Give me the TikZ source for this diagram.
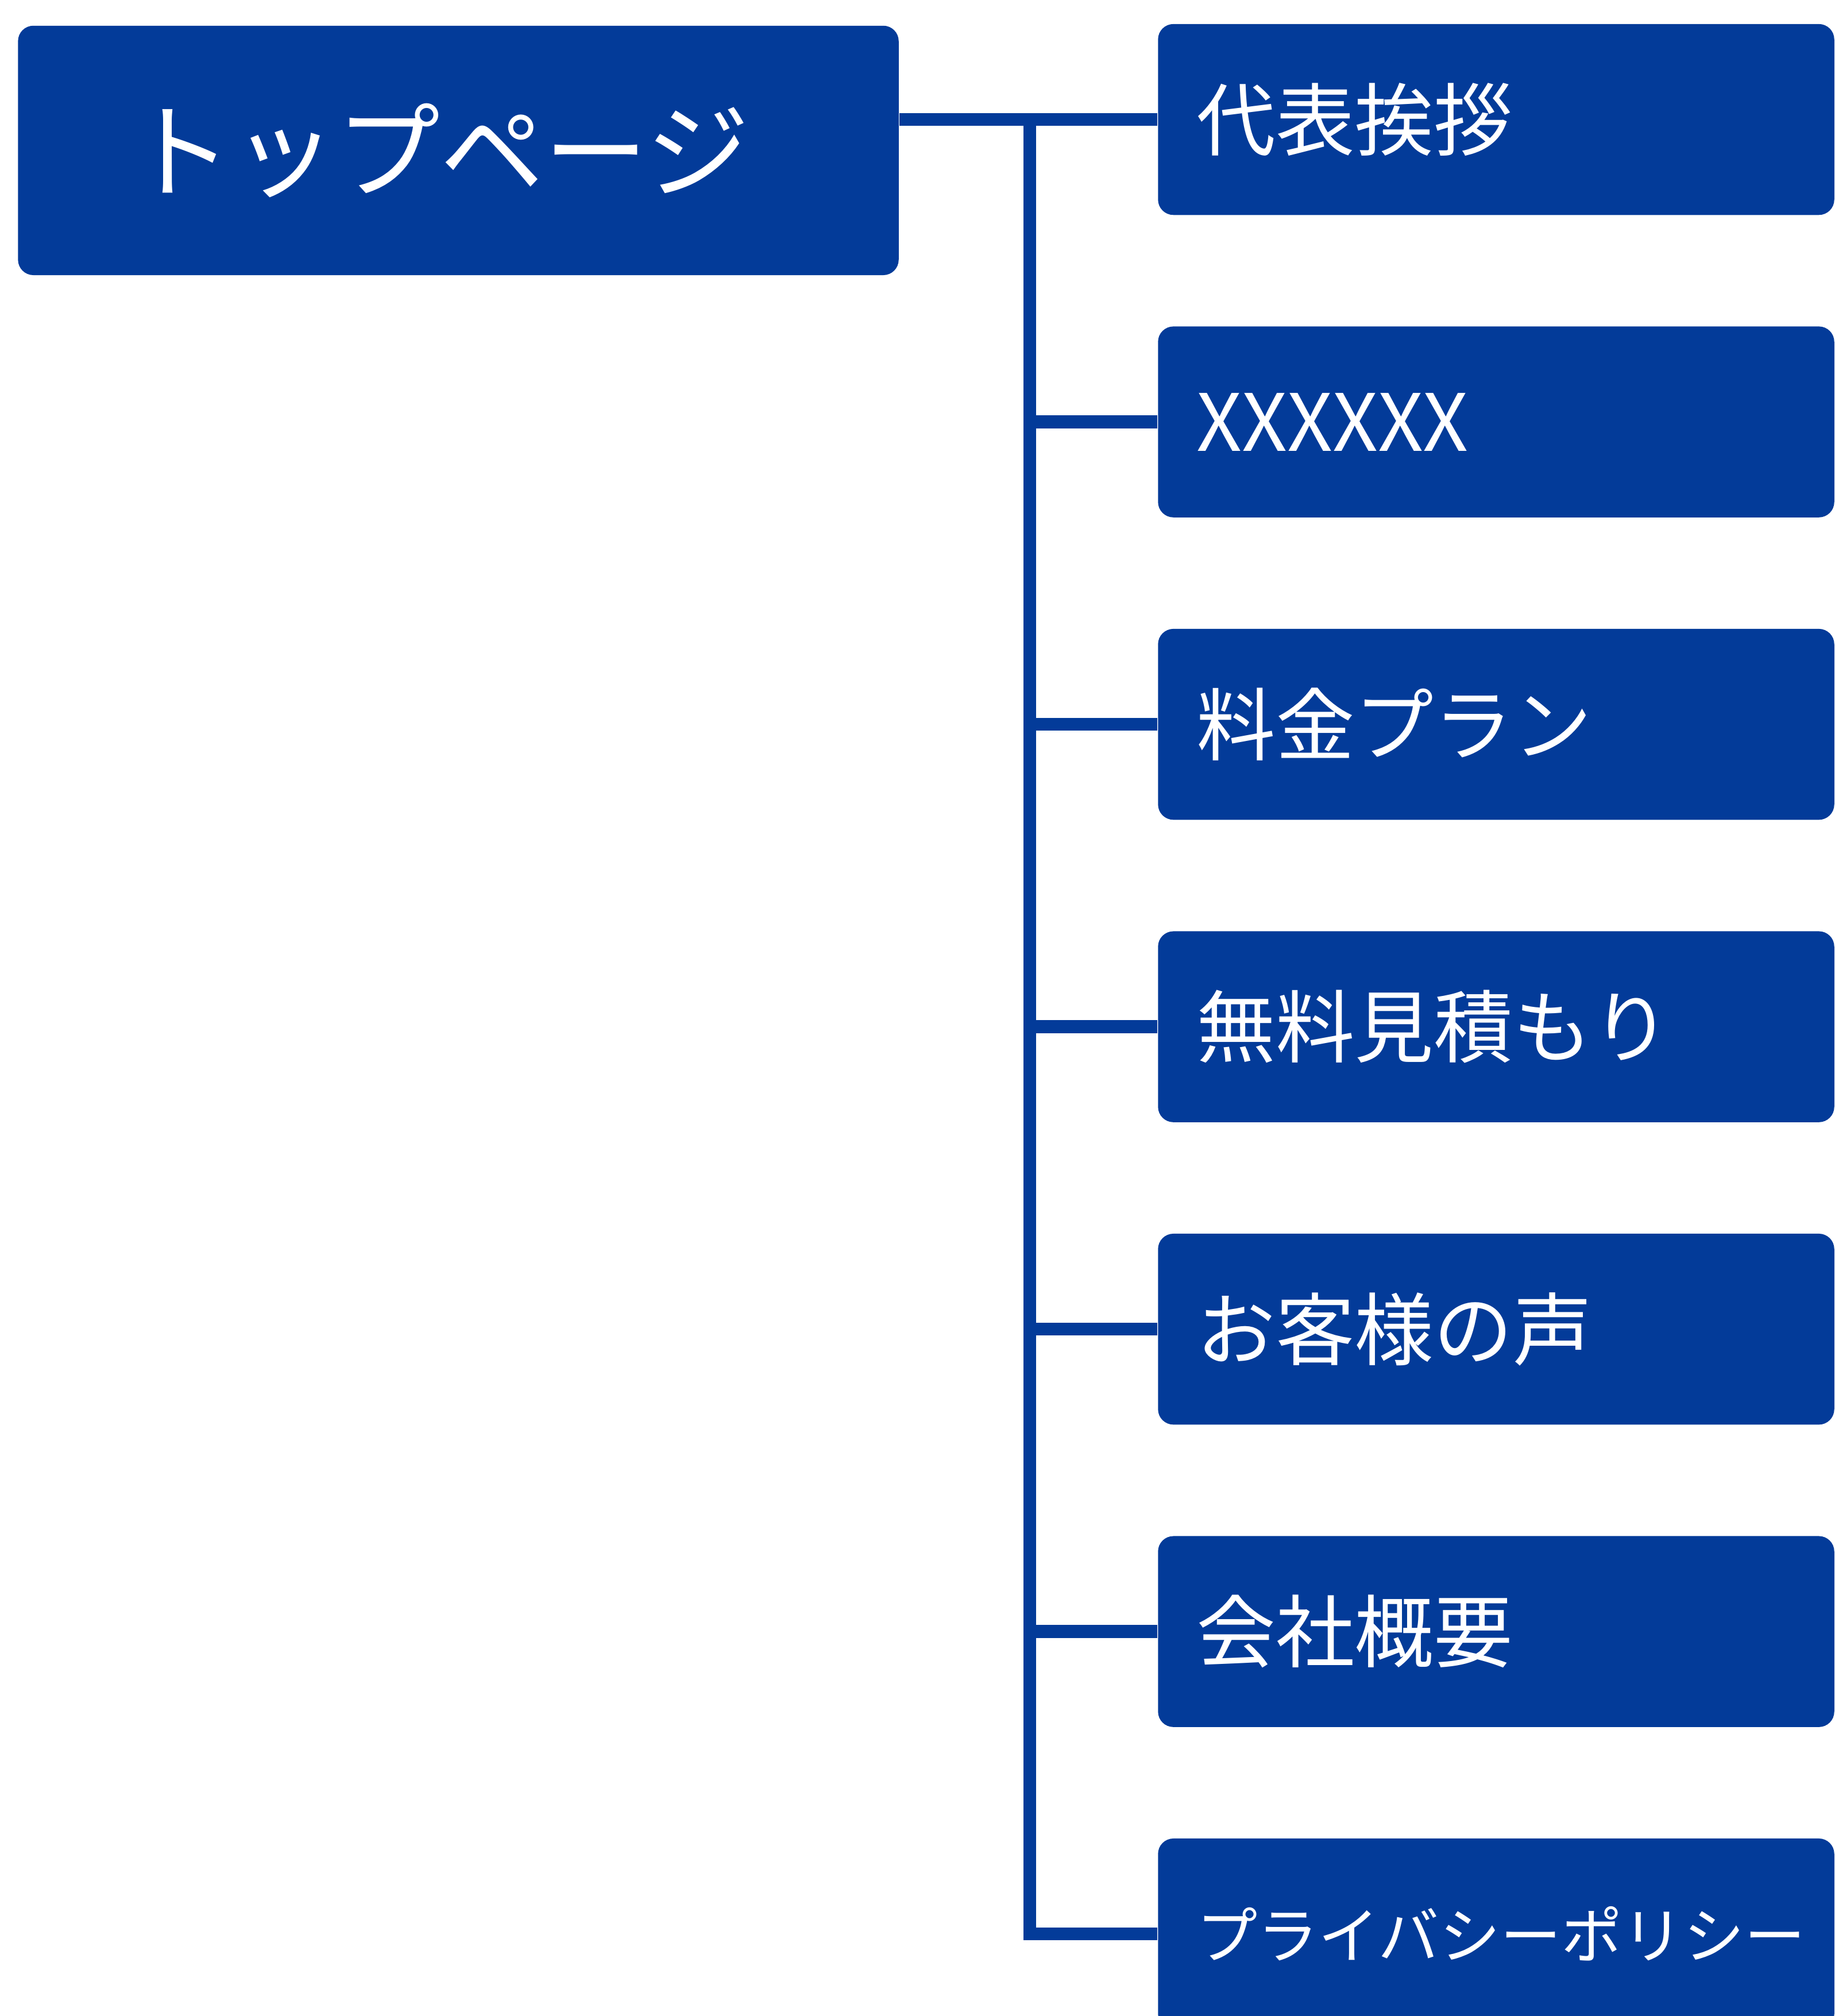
\documentclass[tikz,border=0pt]{standalone}
\usepackage{fontspec}
\setmainfont{Noto Sans CJK JP}
\usetikzlibrary{positioning}
\definecolor{siteblue}{RGB}{3,59,153}

\begin{document}
\begin{tikzpicture}[
  every node/.style={inner sep=0pt},
  topbox/.style={fill=siteblue, rounded corners=0.12cm, minimum width=6.85cm, minimum height=1.94cm, text=white, font=\fontsize{23}{27}\selectfont},
  pagebox/.style={fill=siteblue, rounded corners=0.12cm, minimum height=1.485cm, text width=4.66cm, inner xsep=0.3cm, align=left, text=white, font=\fontsize{17.5}{21}\selectfont},
  link/.style={draw=siteblue, line width=0.1cm, line join=miter}
]
\useasboundingbox (0,0) rectangle (14.27,-15.68);
\node [topbox] (top) at (3.565,-1.17) {\kern-0.3cm トップページ};
\node [pagebox, anchor=north west] (greeting) at (9.00,-0.18) {代表挨拶};
\node [pagebox, below=0.853cm of greeting] (xxx) {XXXXXX};
\node [pagebox, below=0.853cm of xxx] (plan) {料金プラン};
\node [pagebox, below=0.853cm of plan] (estimate) {無料見積もり};
\node [pagebox, below=0.853cm of estimate] (voice) {お客様の声};
\node [pagebox, below=0.853cm of voice] (company) {会社概要};
\node [pagebox, below=0.853cm of company, font=\fontsize{13.5}{16}\selectfont] (policy) {プライバシーポリシー};
\path (greeting.west) ++(-0.99,0) coordinate (trunk);
\draw [link] (greeting.west) -- (greeting.west -| top.east);
\draw [link] (trunk) -- (trunk |- policy.west) -- (policy.west);
\foreach \n in {xxx,plan,estimate,voice,company}
  \draw [link] (trunk |- \n.west) -- (\n.west);
\end{tikzpicture}
\end{document}
